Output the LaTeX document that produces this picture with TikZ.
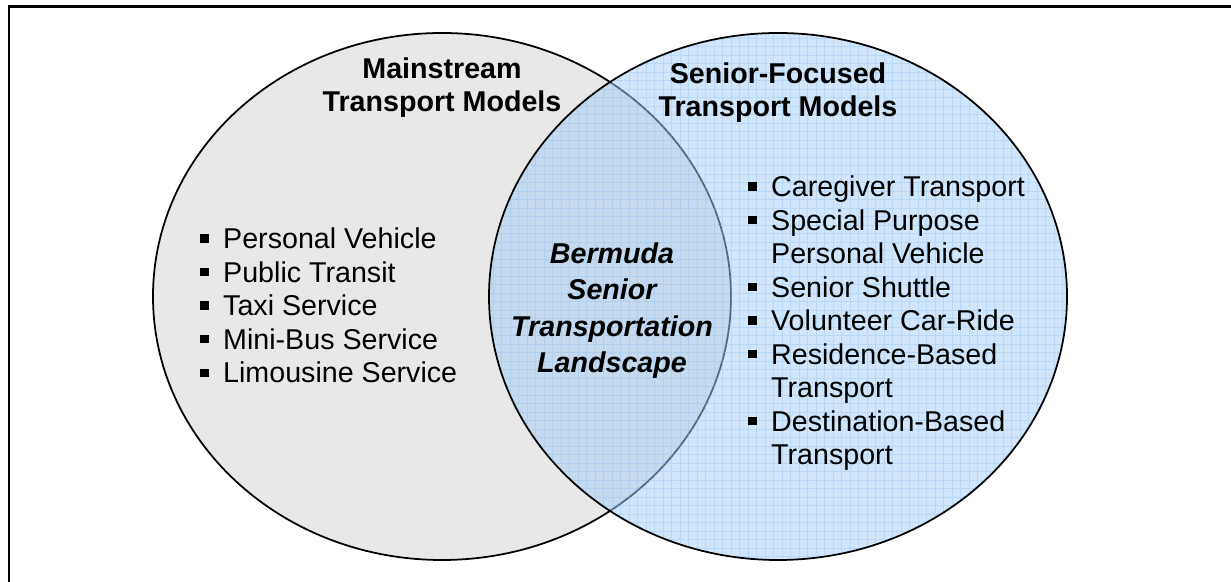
\documentclass[tikz,border=0pt]{standalone}
\usepackage{fontspec}
\setmainfont{Liberation Sans}
\usepackage{xcolor}
\definecolor{mistgray}{HTML}{E8E8E8}
\definecolor{skyfill}{HTML}{A6CEF7}
\definecolor{skygrid}{HTML}{7FB6F0}
\usepackage{tikz}
\usetikzlibrary{positioning}

% square bullet with its gap before the item text
\newcommand{\sqbullet}{\makebox[13pt][l]{\rule[3.4pt]{4.8pt}{4.8pt}}}
\newcommand{\itemgap}{\hspace*{13pt}}

% multi-line nodes: the base anchor sits on the last line
\tikzset{
  ovalline/.style={line width=1pt, black},
  headtext/.style={inner sep=0pt, align=center, anchor=base,
    font=\fontsize{16.3}{19.2}\selectfont\bfseries},
  listtext/.style={inner sep=0pt, align=left, anchor=base west,
    font=\fontsize{16.3}{19.1}\selectfont},
  hubtext/.style={inner sep=0pt, align=center, anchor=base,
    font=\fontsize{16.3}{20.8}\selectfont\bfseries\itshape}
}

\begin{document}
\begin{tikzpicture}
  \useasboundingbox (0,0) rectangle (24.62,11.64);
  \clip (0,0) rectangle (24.62,11.64);

  % outer frame
  \draw[line width=1.7pt] (0.18,-1) rectangle (26,11.5);

  % mainstream models (left oval)
  \draw[ovalline, fill=mistgray] (8.84,5.71) ellipse (5.78 and 5.27);

  % senior-focused models (right oval), see-through with a fine grid
  \begin{scope}
    \clip (15.56,5.71) ellipse (5.78 and 5.27);
    \fill[skyfill, opacity=0.5] (9,0) rectangle (22,12);
    \draw[skygrid, line width=0.35pt, opacity=0.3, step=0.17] (9,0) grid (22,12);
  \end{scope}
  \draw[ovalline] (15.56,5.71) ellipse (5.78 and 5.27);

  % headings
  \node[headtext] (mainhead) at (8.84,9.40) {Mainstream\\Transport Models};
  \node[headtext] (seniorhead) at (15.56,9.30) {Senior-Focused\\Transport Models};

  % overlap label
  \node[hubtext] (hub) at (12.24,4.18) {Bermuda\\Senior\\Transportation\\Landscape};

  % mode lists
  \node[listtext] (mainlist) at (4.0,3.98) {%
    \sqbullet Personal Vehicle\\
    \sqbullet Public Transit\\
    \sqbullet Taxi Service\\
    \sqbullet Mini-Bus Service\\
    \sqbullet Limousine Service};
  \node[listtext] (seniorlist) at (14.96,2.34) {%
    \sqbullet Caregiver Transport\\
    \sqbullet Special Purpose\\
    \itemgap Personal Vehicle\\
    \sqbullet Senior Shuttle\\
    \sqbullet Volunteer Car-Ride\\
    \sqbullet Residence-Based\\
    \itemgap Transport\\
    \sqbullet Destination-Based\\
    \itemgap Transport};
\end{tikzpicture}
\end{document}
